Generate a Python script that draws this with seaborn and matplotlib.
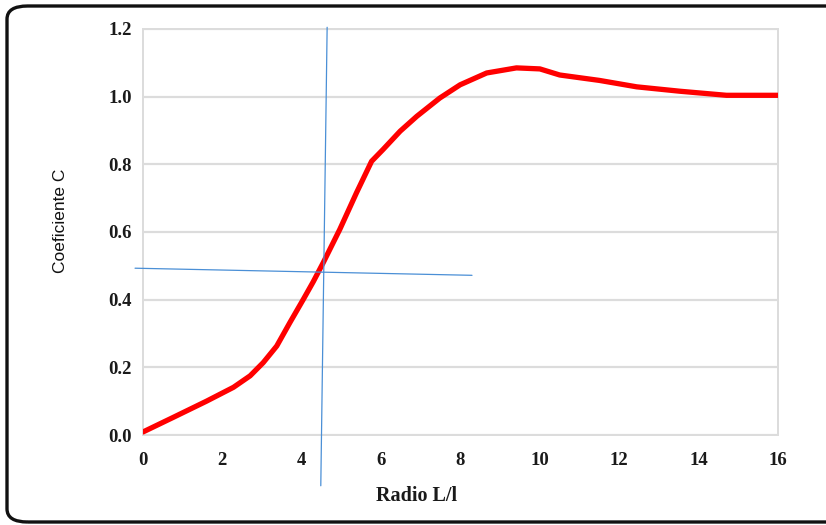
import matplotlib
matplotlib.use("Agg")
import matplotlib.pyplot as plt
from matplotlib.patches import FancyBboxPatch
import seaborn as sns
import pandas as pd

# Coefficient C against the ratio L/l
ratio = [0.0, 0.76, 1.6, 2.28, 2.7, 3.03, 3.37, 3.7, 4.04, 4.29, 4.54, 4.96, 5.38,
         5.76, 6.05, 6.48, 6.9, 7.48, 7.99, 8.66, 9.41, 10.0, 10.5, 11.5, 12.44,
         13.53, 14.7, 16.0]
coef = [0.009, 0.052, 0.10, 0.141, 0.175, 0.214, 0.263, 0.332, 0.401, 0.453, 0.509,
        0.608, 0.716, 0.809, 0.844, 0.898, 0.942, 0.996, 1.035, 1.07, 1.085, 1.082,
        1.064, 1.048, 1.029, 1.016, 1.004, 1.004]

x_ticks = [0, 2, 4, 6, 8, 10, 12, 14, 16]
y_ticks = [0.0, 0.2, 0.4, 0.6, 0.8, 1.0, 1.2]

# Hand-drawn guide lines marking C = 0.5 (start/end points in data units)
guide_vertical = ([4.64, 4.48], [1.205, -0.15])
guide_horizontal = ([-0.2, 8.29], [0.493, 0.472])

df = pd.DataFrame({"Radio L/l": ratio, "Coeficiente C": coef})

sns.set_theme(style="white")
plt.rcParams["font.family"] = ["Liberation Serif", "DejaVu Serif"]

fig = plt.figure(figsize=(8.26, 5.25), dpi=100)
ax = fig.add_axes([0.1731, 0.1714, 0.9419 - 0.1731, 0.9448 - 0.1714])

sns.lineplot(data=df, x="Radio L/l", y="Coeficiente C", ax=ax,
             color="#ff0000", linewidth=3.8, solid_capstyle="round",
             solid_joinstyle="round", zorder=3)

ax.set_xlim(0, 16)
ax.set_ylim(0, 1.2)
ax.set_xticks(x_ticks)
ax.set_yticks(y_ticks)
ax.set_xticklabels([str(t) for t in x_ticks], fontweight="bold", fontsize=13.5)
ax.set_yticklabels([f"{t:.1f}" for t in y_ticks], fontweight="bold", fontsize=13.5)
ax.tick_params(axis="x", length=0, pad=12, colors="#1a1a1a")
ax.tick_params(axis="y", length=4, width=1, color="#d4d4d4", pad=4, labelcolor="#1a1a1a")

ax.yaxis.grid(True, color="#dcdcdc", linewidth=1.6)
ax.xaxis.grid(False)
for side in ["left", "right", "top", "bottom"]:
    ax.spines[side].set_color("#dcdcdc")
    ax.spines[side].set_linewidth(1.4)

ax.set_xlabel("Radio L/l", fontweight="bold", fontsize=14.5, color="#1a1a1a")
ax.xaxis.set_label_coords(0.431, -0.125)
ax.set_ylabel("Coeficiente C", fontsize=12.5, color="#111111",
              family=["Liberation Sans", "DejaVu Sans"])
ax.yaxis.set_label_coords(-0.118, 0.527)

# Guide lines drawn over the plot
ax.plot(*guide_vertical, color="#4a8fd6", linewidth=0.9, clip_on=False, zorder=4)
ax.plot(*guide_horizontal, color="#4a8fd6", linewidth=0.9, clip_on=False, zorder=4)

# Rounded frame around the figure
frame = FancyBboxPatch((7 / 826, 3 / 525), 1.05, 516 / 525,
                       boxstyle="round,pad=0,rounding_size=0.025",
                       transform=fig.transFigure, fill=False,
                       edgecolor="#111111", linewidth=2.4, clip_on=False)
fig.patches.append(frame)

fig.savefig("out.png", dpi=100)
